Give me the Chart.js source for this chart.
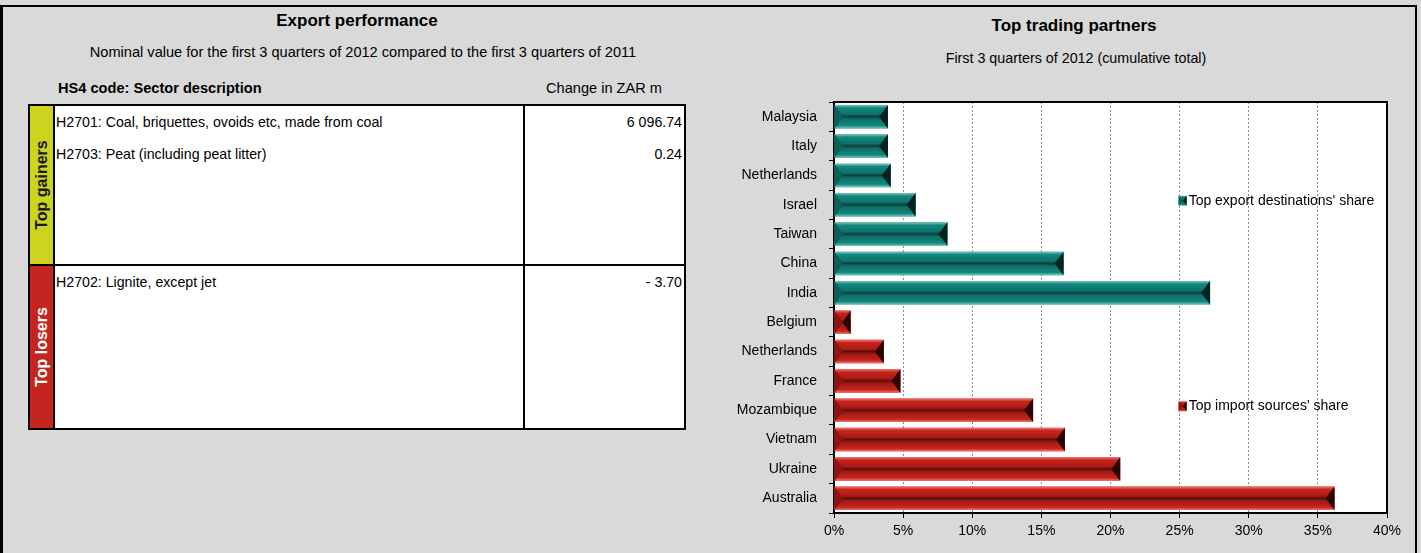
<!DOCTYPE html>
<html>
<head>
<meta charset="utf-8">
<title>Export performance and top trading partners</title>
<script src="https://cdn.jsdelivr.net/npm/chart.js@4.4.1/dist/chart.umd.min.js"></script>
<style>
  html, body { margin: 0; padding: 0; width: 1421px; height: 553px; overflow: hidden; background: #d9d9d9; }
  body { position: relative; font-family: "Liberation Sans Narrow", "Arial Narrow", "Liberation Sans", Arial, sans-serif; color: #000; }
  #frame { position: absolute; left: 0; top: 5px; width: 1417px; height: 560px; box-sizing: border-box;
           border: 2px solid #000; border-left-width: 3px; border-bottom: none; }
  .t { position: absolute; white-space: nowrap; line-height: 1; }
  .center { transform: translate(-50%, -50%); }
  .mid { transform: translateY(-50%); }
  #perfTitle { left: 357px; top: 20px; font-weight: bold; font-size: 17px; }
  #perfSub { left: 363px; top: 52px; font-size: 14.6px; }
  #colDesc { left: 58px; top: 88px; font-weight: bold; font-size: 14.6px; }
  #colVal { left: 546px; top: 88px; font-size: 14.6px; }
  #tradeTitle { left: 1074px; top: 25px; font-weight: bold; font-size: 17px; }
  #tradeSub { left: 1076px; top: 58px; font-size: 14.3px; }
  #tbl { position: absolute; left: 28px; top: 104px; width: 658px; height: 326px; box-sizing: border-box;
         border: 2px solid #000; background: #fff; display: flex; flex-direction: column; }
  .sec { display: flex; flex: none; }
  .sec + .sec { border-top: 2px solid #000; }
  .side { width: 23px; flex: none; position: relative; }
  .side span { position: absolute; left: 50%; top: 50%; transform: translate(-50%, -50%) rotate(-90deg);
               font-family: "Liberation Sans", Arial, sans-serif; font-weight: bold; font-size: 16px; white-space: nowrap; }
  .desc { width: 468px; flex: none; border-left: 2px solid #000; border-right: 2px solid #000; }
  .val { flex: 1; }
  .row { height: 32px; line-height: 32px; font-size: 14.2px; white-space: nowrap; }
  .desc .row { padding-left: 1px; }
  .val .row { text-align: right; padding-right: 2px; }
  #chartBox { position: absolute; left: 700px; top: 8px; width: 715px; height: 545px; }
</style>
</head>
<body>
<div id="frame"></div>

<div class="t center" id="perfTitle">Export performance</div>
<div class="t center" id="perfSub">Nominal value for the first 3 quarters of 2012 compared to the first 3 quarters of 2011</div>
<div class="t mid" id="colDesc">HS4 code: Sector description</div>
<div class="t mid" id="colVal">Change in ZAR m</div>
<div id="tbl"></div>

<div class="t center" id="tradeTitle">Top trading partners</div>
<div class="t center" id="tradeSub">First 3 quarters of 2012 (cumulative total)</div>
<div id="chartBox"><canvas id="partners"></canvas></div>

<script>
// ---- Export performance table ----
const gainerSectors = ['H2701: Coal, briquettes, ovoids etc, made from coal', 'H2703: Peat (including peat litter)'];
const gainerChange  = ['6 096.74', '0.24'];
const loserSectors  = ['H2702: Lignite, except jet'];
const loserChange   = ['- 3.70'];

// ---- Top trading partners (share of total, %) ----
const partners = ['Malaysia', 'Italy', 'Netherlands', 'Israel', 'Taiwan', 'China', 'India',
                  'Belgium', 'Netherlands', 'France', 'Mozambique', 'Vietnam', 'Ukraine', 'Australia'];
const exportShare = [3.9, 3.9, 4.1, 5.9, 8.2, 16.6, 27.2, null, null, null, null, null, null, null];
const importShare = [null, null, null, null, null, null, null, 1.2, 3.6, 4.8, 14.4, 16.7, 20.7, 36.2];
const shareTicks = [0, 5, 10, 15, 20, 25, 30, 35, 40];

function buildSection(label, sideColor, textColor, sectors, changes, height) {
  const sec = document.createElement('div');
  sec.className = 'sec';
  sec.style.height = height + 'px';
  sec.innerHTML =
    '<div class="side" style="background:' + sideColor + '"><span style="color:' + textColor + '">' + label + '</span></div>' +
    '<div class="desc">' + sectors.map(s => '<div class="row">' + s + '</div>').join('') + '</div>' +
    '<div class="val">' + changes.map(v => '<div class="row">' + v + '</div>').join('') + '</div>';
  return sec;
}
const tbl = document.getElementById('tbl');
tbl.appendChild(buildSection('Top gainers', '#cdd420', '#1a1a1a', gainerSectors, gainerChange, 158));
tbl.appendChild(buildSection('Top losers', '#c4261f', '#ffffff', loserSectors, loserChange, 162));

// ---- Chart ----
const FONT = '"Liberation Sans Narrow", "Arial Narrow", "Liberation Sans", Arial, sans-serif';
Chart.defaults.font.family = FONT;
Chart.defaults.color = '#000';

const palettes = {
  teal: { light: '#7cc8bf', main: '#12887e', deep: '#0e7168', ridge: '#0a3f3a', low: '#0f6e65', left: '#0c5f57', right: '#04231f' },
  red:  { light: '#ec7a74', main: '#c9231d', deep: '#a91b16', ridge: '#5a0d0a', low: '#9e1a15', left: '#8c1511', right: '#2a0403' }
};

// white plotting area with a frame round it
const plotFrame = {
  id: 'plotFrame',
  beforeDraw(chart) {
    const { ctx, chartArea: a } = chart;
    ctx.save();
    ctx.fillStyle = '#fff';
    ctx.fillRect(a.left, a.top, a.right - a.left, a.bottom - a.top);
    ctx.restore();
  },
  afterDraw(chart) {
    const { ctx, chartArea: a } = chart;
    ctx.save();
    ctx.strokeStyle = '#000';
    ctx.lineWidth = 2;
    ctx.beginPath();
    ctx.moveTo(a.left, a.top);
    ctx.lineTo(a.right, a.top);
    ctx.lineTo(a.right, a.bottom);
    ctx.stroke();
    ctx.restore();
  }
};

function bevelBar(ctx, x0, x1, y0, y1, p) {
  const h = y1 - y0, ym = (y0 + y1) / 2;
  const d = Math.min(h * 0.38, (x1 - x0) / 2);
  const g = ctx.createLinearGradient(0, y0, 0, y1);
  g.addColorStop(0, p.light);
  g.addColorStop(0.12, p.main);
  g.addColorStop(0.40, p.deep);
  g.addColorStop(0.50, p.ridge);
  g.addColorStop(0.60, p.low);
  g.addColorStop(0.88, p.main);
  g.addColorStop(1, p.light);
  ctx.fillStyle = g;
  ctx.fillRect(x0, y0, x1 - x0, h);
  // left end face
  ctx.fillStyle = p.left;
  ctx.beginPath();
  ctx.moveTo(x0, y0); ctx.lineTo(x0 + d, ym); ctx.lineTo(x0, y1); ctx.closePath();
  ctx.fill();
  // right end face
  ctx.fillStyle = p.right;
  ctx.beginPath();
  ctx.moveTo(x1, y0); ctx.lineTo(x1 - d, ym); ctx.lineTo(x1, y1); ctx.closePath();
  ctx.fill();
}

const bevel = {
  id: 'bevel',
  afterDatasetsDraw(chart) {
    const ctx = chart.ctx;
    ctx.save();
    chart.data.datasets.forEach((ds, i) => {
      const meta = chart.getDatasetMeta(i);
      const p = palettes[ds.shade];
      meta.data.forEach((bar, j) => {
        if (ds.data[j] == null) return;
        const { x, y, base, height } = bar.getProps(['x', 'y', 'base', 'height'], true);
        bevelBar(ctx, Math.min(base, x), Math.max(base, x), y - height / 2, y + height / 2, p);
      });
    });
    ctx.restore();
  }
};

// legend entries sit inside the plot, next to the 25% line
const innerLegend = {
  id: 'innerLegend',
  afterDraw(chart) {
    const { ctx, scales } = chart;
    const xs = scales.x, ys = scales.y;
    ctx.save();
    chart.data.datasets.forEach(ds => {
      const x = xs.getPixelForValue(25) - 1;
      const y = ys.getPixelForValue(ds.legendRow) - 4;
      bevelBar(ctx, x, x + 8, y - 5, y + 5, palettes[ds.shade]);
      ctx.fillStyle = '#000';
      ctx.font = '14px ' + FONT;
      ctx.textBaseline = 'middle';
      ctx.textAlign = 'left';
      ctx.fillText(ds.label, x + 10, y);
    });
    ctx.restore();
  }
};

new Chart(document.getElementById('partners'), {
  type: 'bar',
  data: {
    labels: partners,
    datasets: [
      { label: "Top export destinations' share", data: exportShare, backgroundColor: palettes.teal.main, shade: 'teal', legendRow: 3 },
      { label: "Top import sources' share", data: importShare, backgroundColor: palettes.red.main, shade: 'red', legendRow: 10 }
    ]
  },
  options: {
    indexAxis: 'y',
    responsive: true,
    maintainAspectRatio: false,
    animation: false,
    events: [],
    layout: { padding: { top: 94, right: 28, bottom: 0, left: 0 } },
    datasets: { bar: { grouped: false, barPercentage: 0.8, categoryPercentage: 1, borderWidth: 0 } },
    plugins: { legend: { display: false }, tooltip: { enabled: false }, title: { display: false } },
    scales: {
      x: {
        min: 0, max: 40,
        afterFit(s) { s.height = 40; },
        afterBuildTicks(s) { s.ticks = shareTicks.map(v => ({ value: v })); },
        ticks: { callback: v => v + '%', font: { size: 14 }, padding: 5, maxRotation: 0 },
        grid: { color: '#8c8c8c', lineWidth: 1, tickLength: 5, tickColor: '#000', tickBorderDash: [] },
        border: { color: '#000', width: 2, dash: [2, 2] }
      },
      y: {
        afterFit(s) { s.width = 134; },
        ticks: { font: { size: 14 }, padding: 12, autoSkip: false },
        grid: { drawOnChartArea: false, offset: true, tickLength: 5, tickColor: '#000', color: '#000' },
        border: { color: '#000', width: 2 }
      }
    }
  },
  plugins: [plotFrame, bevel, innerLegend]
});
</script>
</body>
</html>
